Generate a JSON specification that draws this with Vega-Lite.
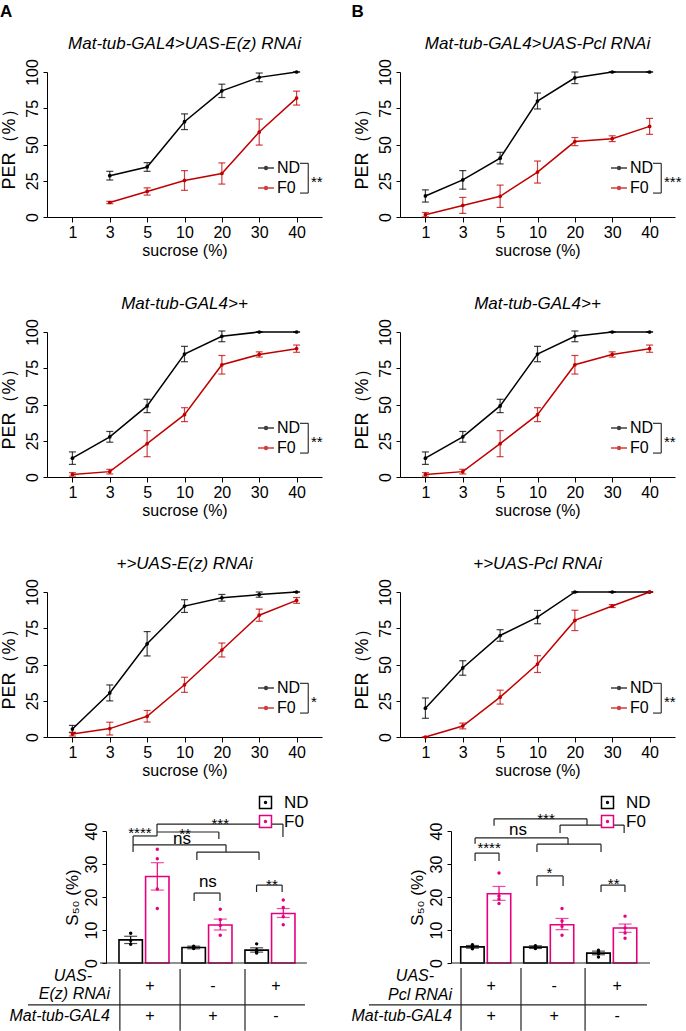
{
"$schema": "https://vega.github.io/schema/vega-lite/v6.json",
"background": "white",
"padding": {"left": 0, "top": 2, "right": 0, "bottom": 0},
"datasets": {
"lines": [
{"p":"A1","c":3,"g":"ND","m":28.5,"e":3},{"p":"A1","c":5,"g":"ND","m":34.5,"e":3},{"p":"A1","c":10,"g":"ND","m":65.7,"e":5.4},{"p":"A1","c":20,"g":"ND","m":87,"e":4.6},{"p":"A1","c":30,"g":"ND","m":96.3,"e":3},{"p":"A1","c":40,"g":"ND","m":100,"e":0},
{"p":"A1","c":3,"g":"F0","m":10,"e":0.8},{"p":"A1","c":5,"g":"F0","m":17.6,"e":2.5},{"p":"A1","c":10,"g":"F0","m":25.2,"e":6.8},{"p":"A1","c":20,"g":"F0","m":30,"e":7.3},{"p":"A1","c":30,"g":"F0","m":58.6,"e":9},{"p":"A1","c":40,"g":"F0","m":82,"e":4.8},
{"p":"B1","c":1,"g":"ND","m":14.5,"e":4.2},{"p":"B1","c":3,"g":"ND","m":25.6,"e":6.4},{"p":"B1","c":5,"g":"ND","m":40.6,"e":4},{"p":"B1","c":10,"g":"ND","m":80,"e":5.5},{"p":"B1","c":20,"g":"ND","m":96,"e":4},{"p":"B1","c":30,"g":"ND","m":100,"e":0},{"p":"B1","c":40,"g":"ND","m":100,"e":0},
{"p":"B1","c":1,"g":"F0","m":1.6,"e":1.5},{"p":"B1","c":3,"g":"F0","m":8,"e":5.5},{"p":"B1","c":5,"g":"F0","m":14.3,"e":7.7},{"p":"B1","c":10,"g":"F0","m":31,"e":7.6},{"p":"B1","c":20,"g":"F0","m":52,"e":2.8},{"p":"B1","c":30,"g":"F0","m":54,"e":2},{"p":"B1","c":40,"g":"F0","m":62.5,"e":5.5},
{"p":"M2","c":1,"g":"ND","m":13,"e":4.3},{"p":"M2","c":3,"g":"ND","m":27.7,"e":3.7},{"p":"M2","c":5,"g":"ND","m":49,"e":4.6},{"p":"M2","c":10,"g":"ND","m":84.8,"e":5.3},{"p":"M2","c":20,"g":"ND","m":97,"e":3.7},{"p":"M2","c":30,"g":"ND","m":100,"e":0},{"p":"M2","c":40,"g":"ND","m":100,"e":0},
{"p":"M2","c":1,"g":"F0","m":1.8,"e":1.2},{"p":"M2","c":3,"g":"F0","m":3.7,"e":1.6},{"p":"M2","c":5,"g":"F0","m":23,"e":9},{"p":"M2","c":10,"g":"F0","m":43,"e":4.8},{"p":"M2","c":20,"g":"F0","m":77.4,"e":6.4},{"p":"M2","c":30,"g":"F0","m":84.5,"e":1.8},{"p":"M2","c":40,"g":"F0","m":88.5,"e":2.5},
{"p":"A3","c":1,"g":"ND","m":5.5,"e":2.5},{"p":"A3","c":3,"g":"ND","m":30.4,"e":5.5},{"p":"A3","c":5,"g":"ND","m":64.3,"e":8.4},{"p":"A3","c":10,"g":"ND","m":90.3,"e":4.4},{"p":"A3","c":20,"g":"ND","m":96,"e":2.3},{"p":"A3","c":30,"g":"ND","m":98.2,"e":1.8},{"p":"A3","c":40,"g":"ND","m":100,"e":0},
{"p":"A3","c":1,"g":"F0","m":2,"e":1.3},{"p":"A3","c":3,"g":"F0","m":5.8,"e":4.4},{"p":"A3","c":5,"g":"F0","m":14.3,"e":4},{"p":"A3","c":10,"g":"F0","m":36,"e":5.2},{"p":"A3","c":20,"g":"F0","m":60,"e":4.8},{"p":"A3","c":30,"g":"F0","m":84,"e":4.2},{"p":"A3","c":40,"g":"F0","m":94.2,"e":2},
{"p":"B3","c":1,"g":"ND","m":19.9,"e":7},{"p":"B3","c":3,"g":"ND","m":47.6,"e":5},{"p":"B3","c":5,"g":"ND","m":70,"e":4},{"p":"B3","c":10,"g":"ND","m":82.7,"e":4.6},{"p":"B3","c":20,"g":"ND","m":100,"e":0},{"p":"B3","c":30,"g":"ND","m":100,"e":0},{"p":"B3","c":40,"g":"ND","m":100,"e":0},
{"p":"B3","c":1,"g":"F0","m":0,"e":0},{"p":"B3","c":3,"g":"F0","m":7.6,"e":2},{"p":"B3","c":5,"g":"F0","m":27.5,"e":4.8},{"p":"B3","c":10,"g":"F0","m":50.3,"e":5.8},{"p":"B3","c":20,"g":"F0","m":80.4,"e":7},{"p":"B3","c":30,"g":"F0","m":90.3,"e":1},{"p":"B3","c":40,"g":"F0","m":100,"e":0}
],
"lann": [
{"x1":95,"x2":95,"y1":16.5,"y2":37},{"x1":92,"x2":95,"y1":37,"y2":37},{"x1":92,"x2":95,"y1":16.5,"y2":16.5}
],
"lstar": [
{"p":"A1","x":96,"y":21,"t":"**"},{"p":"B1","x":96,"y":21,"t":"***"},{"p":"A2","x":96,"y":21,"t":"**"},{"p":"B2","x":96,"y":21,"t":"**"},{"p":"A3","x":96,"y":21,"t":"*"},{"p":"B3","x":96,"y":21,"t":"**"}
],
"bars": [
{"p":"A","grp":"g1","cond":"ND","m":7.0,"lo":5.9,"hi":8.1},{"p":"A","grp":"g1","cond":"F0","m":26.2,"lo":22.1,"hi":30.4},
{"p":"A","grp":"g2","cond":"ND","m":4.7,"lo":4.3,"hi":5.1},{"p":"A","grp":"g2","cond":"F0","m":11.5,"lo":10.0,"hi":13.3},
{"p":"A","grp":"g3","cond":"ND","m":3.9,"lo":3.3,"hi":4.6},{"p":"A","grp":"g3","cond":"F0","m":15.0,"lo":13.8,"hi":16.5},
{"p":"B","grp":"g1","cond":"ND","m":4.9,"lo":4.5,"hi":5.3},{"p":"B","grp":"g1","cond":"F0","m":21.0,"lo":19.0,"hi":23.2},
{"p":"B","grp":"g2","cond":"ND","m":4.8,"lo":4.4,"hi":5.2},{"p":"B","grp":"g2","cond":"F0","m":11.6,"lo":10.1,"hi":13.5},
{"p":"B","grp":"g3","cond":"ND","m":3.0,"lo":2.5,"hi":3.6},{"p":"B","grp":"g3","cond":"F0","m":10.6,"lo":9.3,"hi":11.8}
],
"dots": [
{"p":"A","grp":"g1","cond":"ND","v":9.0},{"p":"A","grp":"g1","cond":"ND","v":6.8},{"p":"A","grp":"g1","cond":"ND","v":5.7},
{"p":"A","grp":"g1","cond":"F0","v":34.5},{"p":"A","grp":"g1","cond":"F0","v":31.6},{"p":"A","grp":"g1","cond":"F0","v":22.4},{"p":"A","grp":"g1","cond":"F0","v":16.5},
{"p":"A","grp":"g2","cond":"ND","v":5.1},{"p":"A","grp":"g2","cond":"ND","v":4.8},{"p":"A","grp":"g2","cond":"ND","v":4.6},{"p":"A","grp":"g2","cond":"ND","v":4.4},
{"p":"A","grp":"g2","cond":"F0","v":16.3},{"p":"A","grp":"g2","cond":"F0","v":13.1},{"p":"A","grp":"g2","cond":"F0","v":11.4},{"p":"A","grp":"g2","cond":"F0","v":8.4},
{"p":"A","grp":"g3","cond":"ND","v":5.8},{"p":"A","grp":"g3","cond":"ND","v":4.0},{"p":"A","grp":"g3","cond":"ND","v":3.4},{"p":"A","grp":"g3","cond":"ND","v":3.0},
{"p":"A","grp":"g3","cond":"F0","v":19.1},{"p":"A","grp":"g3","cond":"F0","v":16.8},{"p":"A","grp":"g3","cond":"F0","v":14.0},{"p":"A","grp":"g3","cond":"F0","v":11.6},
{"p":"B","grp":"g1","cond":"ND","v":5.5},{"p":"B","grp":"g1","cond":"ND","v":5.3},{"p":"B","grp":"g1","cond":"ND","v":4.6},{"p":"B","grp":"g1","cond":"ND","v":4.3},
{"p":"B","grp":"g1","cond":"F0","v":27.3},{"p":"B","grp":"g1","cond":"F0","v":20.3},{"p":"B","grp":"g1","cond":"F0","v":19.4},{"p":"B","grp":"g1","cond":"F0","v":18.0},
{"p":"B","grp":"g2","cond":"ND","v":5.2},{"p":"B","grp":"g2","cond":"ND","v":5.0},{"p":"B","grp":"g2","cond":"ND","v":4.6},{"p":"B","grp":"g2","cond":"ND","v":4.4},
{"p":"B","grp":"g2","cond":"F0","v":16.5},{"p":"B","grp":"g2","cond":"F0","v":12.7},{"p":"B","grp":"g2","cond":"F0","v":11.1},{"p":"B","grp":"g2","cond":"F0","v":8.4},
{"p":"B","grp":"g3","cond":"ND","v":3.9},{"p":"B","grp":"g3","cond":"ND","v":3.4},{"p":"B","grp":"g3","cond":"ND","v":2.9},{"p":"B","grp":"g3","cond":"ND","v":1.8},
{"p":"B","grp":"g3","cond":"F0","v":14.2},{"p":"B","grp":"g3","cond":"F0","v":10.6},{"p":"B","grp":"g3","cond":"F0","v":9.1},{"p":"B","grp":"g3","cond":"F0","v":7.5}
],
"tbl": [
{"p":"A","grp":"g1","ty":-7,"t":"+"},{"p":"A","grp":"g2","ty":-7,"t":"-"},{"p":"A","grp":"g3","ty":-7,"t":"+"},
{"p":"A","grp":"g1","ty":-16,"t":"+"},{"p":"A","grp":"g2","ty":-16,"t":"+"},{"p":"A","grp":"g3","ty":-16,"t":"-"},
{"p":"B","grp":"g1","ty":-7,"t":"+"},{"p":"B","grp":"g2","ty":-7,"t":"-"},{"p":"B","grp":"g3","ty":-7,"t":"+"},
{"p":"B","grp":"g1","ty":-16,"t":"+"},{"p":"B","grp":"g2","ty":-16,"t":"+"},{"p":"B","grp":"g3","ty":-16,"t":"-"}
],
"bann": [
{"p":"A","x1":40,"x2":85.8,"y1":42.1,"y2":42.1},{"p":"A","x1":85.8,"x2":85.8,"y1":38.2,"y2":42.1},{"p":"A","x1":40,"x2":40,"y1":38.5,"y2":42.1},
{"p":"A","x1":40,"x2":62.5,"y1":39.7,"y2":39.7},{"p":"A","x1":62.5,"x2":62.5,"y1":37.6,"y2":39.7},
{"p":"A","x1":31.3,"x2":40,"y1":38.5,"y2":38.5},{"p":"A","x1":31.3,"x2":31.3,"y1":33.6,"y2":38.5},
{"p":"A","x1":31.3,"x2":65.1,"y1":35.8,"y2":35.8},{"p":"A","x1":65.1,"x2":65.1,"y1":33.6,"y2":35.8},
{"p":"A","x1":54.5,"x2":77.1,"y1":33.6,"y2":33.6},{"p":"A","x1":54.5,"x2":54.5,"y1":31.2,"y2":33.6},{"p":"A","x1":77.1,"x2":77.1,"y1":31.2,"y2":33.6},
{"p":"A","x1":53.5,"x2":62.9,"y1":21.2,"y2":21.2},{"p":"A","x1":53.5,"x2":53.5,"y1":18.8,"y2":21.2},{"p":"A","x1":62.9,"x2":62.9,"y1":18.8,"y2":21.2},
{"p":"A","x1":76.2,"x2":85.5,"y1":23.6,"y2":23.6},{"p":"A","x1":76.2,"x2":76.2,"y1":21.5,"y2":23.6},{"p":"A","x1":85.5,"x2":85.5,"y1":21.5,"y2":23.6},
{"p":"A","x1":19.3,"x2":94.5,"y1":0,"y2":0},
{"p":"A","x1":26.5,"x2":26.5,"y1":-1.8,"y2":-20.5},{"p":"A","x1":48.4,"x2":48.4,"y1":-1.8,"y2":-20.5},{"p":"A","x1":72,"x2":72,"y1":-1.8,"y2":-20.5},
{"p":"A","x1":-6.9,"x2":93.8,"y1":-12.7,"y2":-12.7},
{"p":"B","x1":34.2,"x2":68,"y1":43.7,"y2":43.7},{"p":"B","x1":34.2,"x2":34.2,"y1":41.6,"y2":43.7},{"p":"B","x1":68,"x2":68,"y1":41.8,"y2":43.7},
{"p":"B","x1":58.2,"x2":81.5,"y1":41.8,"y2":41.8},{"p":"B","x1":58.2,"x2":58.2,"y1":39.4,"y2":41.8},{"p":"B","x1":81.5,"x2":81.5,"y1":39.4,"y2":41.8},
{"p":"B","x1":27.3,"x2":61.1,"y1":37.9,"y2":37.9},{"p":"B","x1":27.3,"x2":27.3,"y1":36.1,"y2":37.9},{"p":"B","x1":61.1,"x2":61.1,"y1":36.0,"y2":37.9},
{"p":"B","x1":49.8,"x2":73.1,"y1":36.0,"y2":36.0},{"p":"B","x1":49.8,"x2":49.8,"y1":33.6,"y2":36.0},{"p":"B","x1":73.1,"x2":73.1,"y1":33.6,"y2":36.0},
{"p":"B","x1":27.3,"x2":36.0,"y1":33.3,"y2":33.3},{"p":"B","x1":27.3,"x2":27.3,"y1":30.9,"y2":33.3},{"p":"B","x1":36.0,"x2":36.0,"y1":30.9,"y2":33.3},
{"p":"B","x1":49.8,"x2":59.3,"y1":26.4,"y2":26.4},{"p":"B","x1":49.8,"x2":49.8,"y1":23.3,"y2":26.4},{"p":"B","x1":59.3,"x2":59.3,"y1":23.3,"y2":26.4},
{"p":"B","x1":73.1,"x2":81.8,"y1":23.6,"y2":23.6},{"p":"B","x1":73.1,"x2":73.1,"y1":21.5,"y2":23.6},{"p":"B","x1":81.8,"x2":81.8,"y1":21.5,"y2":23.6},
{"p":"B","x1":18.9,"x2":90.9,"y1":0,"y2":0},
{"p":"B","x1":22.2,"x2":22.2,"y1":-1.5,"y2":-20.5},{"p":"B","x1":44,"x2":44,"y1":-1.5,"y2":-20.5},{"p":"B","x1":67.3,"x2":67.3,"y1":-1.5,"y2":-20.5},
{"p":"B","x1":-11.3,"x2":89.8,"y1":-12.7,"y2":-12.7}
],
"btxt": [
{"p":"A","k":"s","x":63,"y":40.6,"t":"***"},{"p":"A","k":"s","x":50.2,"y":37.6,"t":"**"},{"p":"A","k":"s","x":33.8,"y":37.9,"t":"****"},
{"p":"A","k":"n","x":49.1,"y":36.0,"t":"ns"},{"p":"A","k":"n","x":58.5,"y":23.0,"t":"ns"},{"p":"A","k":"s","x":81.8,"y":22.1,"t":"**"},
{"p":"A","k":"l","x":16.4,"y":-3.9,"t":"UAS-"},{"p":"A","k":"l","x":22.9,"y":-9.4,"t":"E(z) RNAi"},{"p":"A","k":"l","x":22.9,"y":-16.1,"t":"Mat-tub-GAL4"},
{"p":"B","k":"s","x":53.1,"y":42.2,"t":"***"},{"p":"B","k":"n","x":42.9,"y":38.8,"t":"ns"},{"p":"B","k":"s","x":32.4,"y":33.3,"t":"****"},
{"p":"B","k":"s","x":54.3,"y":25.7,"t":"*"},{"p":"B","k":"s","x":77.7,"y":22.4,"t":"**"},
{"p":"B","k":"l","x":12.4,"y":-3.9,"t":"UAS-"},{"p":"B","k":"l","x":18.9,"y":-9.7,"t":"Pcl RNAi"},{"p":"B","k":"l","x":18.9,"y":-16,"t":"Mat-tub-GAL4"}
]
},
"hconcat": [
{
"title": {"text": "A", "anchor": "start", "fontSize": 17, "fontWeight": "bold", "fontStyle": "normal", "offset": 14},
"spacing": 16,
"resolve": {"scale": {"color": "independent", "stroke": "independent", "fill": "independent", "x": "independent", "y": "independent"}, "legend": {"color": "independent", "stroke": "independent", "fill": "independent"}},
"vconcat": [
{"width": 275, "height": 145, "title": {"text": "Mat-tub-GAL4>UAS-E(z) RNAi"},
"layer": [
{"data": {"name": "lines"}, "transform": [{"filter": "datum.p=='A1'"}],
"encoding": {
"x": {"field": "c", "type": "ordinal", "scale": {"type": "point", "domain": [1,3,5,10,20,30,40], "padding": 0.68}, "axis": {"title": ["sucrose (%)", ""], "titleLineHeight": 20}},
"y": {"field": "m", "type": "quantitative", "scale": {"domain": [0,100], "nice": false}, "axis": {"values": [0,25,50,75,100], "labelOverlap": false, "labelSeparation": 0, "titleFontSize": 18, "titlePadding": 6}, "title": "PER（%）"},
"color": {"field": "g", "type": "nominal", "scale": {"domain": ["ND","F0"], "range": ["#000000","#C00000"]}, "legend": {"orient": "none", "legendX": 210, "legendY": 87, "title": null, "symbolType": "M-1,0H1M-0.18,0A0.18,0.18,0,1,0,0.18,0A0.18,0.18,0,1,0,-0.18,0", "symbolSize": 256, "symbolStrokeWidth": 1.5, "labelFontSize": 16, "rowPadding": 3, "labelOffset": 2}}},
"layer": [
{"mark": {"type": "line", "strokeWidth": 1.5}},
{"mark": {"type": "errorbar", "ticks": {"size": 7}, "opacity": 0.75, "thickness": 1.2}, "encoding": {"yError": {"field": "e"}}},
{"mark": {"type": "point", "filled": true, "size": 14, "opacity": 1}}
]},
{"data": {"name": "lann"}, "mark": {"type": "rule", "color": "#333", "strokeWidth": 1.2}, "encoding": {"x": {"field": "x1", "type": "quantitative", "scale": {"domain": [0,100]}, "axis": null}, "x2": {"field": "x2"}, "y": {"field": "y1", "type": "quantitative", "title": "PER（%）", "axis": {"values": [0,25,50,75,100], "labelOverlap": false, "labelSeparation": 0, "titleFontSize": 18, "titlePadding": 6}}, "y2": {"field": "y2"}}},
{"data": {"name": "lstar"}, "transform": [{"filter": "datum.p=='A1'"}], "mark": {"type": "text", "align": "left", "baseline": "alphabetic", "fontSize": 15}, "encoding": {"x": {"field": "x", "type": "quantitative", "scale": {"domain": [0,100]}, "axis": null}, "y": {"field": "y", "type": "quantitative", "title": "PER（%）", "axis": {"values": [0,25,50,75,100], "labelOverlap": false, "labelSeparation": 0, "titleFontSize": 18, "titlePadding": 6}}, "text": {"field": "t"}}}
],
"resolve": {"scale": {"x": "independent"}}},
{"width": 275, "height": 145, "title": {"text": "Mat-tub-GAL4>+"},
"layer": [
{"data": {"name": "lines"}, "transform": [{"filter": "datum.p=='M2'"}],
"encoding": {
"x": {"field": "c", "type": "ordinal", "scale": {"type": "point", "domain": [1,3,5,10,20,30,40], "padding": 0.68}, "axis": {"title": ["sucrose (%)", ""], "titleLineHeight": 20}},
"y": {"field": "m", "type": "quantitative", "scale": {"domain": [0,100], "nice": false}, "axis": {"values": [0,25,50,75,100], "labelOverlap": false, "labelSeparation": 0, "titleFontSize": 18, "titlePadding": 6}, "title": "PER（%）"},
"color": {"field": "g", "type": "nominal", "scale": {"domain": ["ND","F0"], "range": ["#000000","#C00000"]}, "legend": {"orient": "none", "legendX": 210, "legendY": 87, "title": null, "symbolType": "M-1,0H1M-0.18,0A0.18,0.18,0,1,0,0.18,0A0.18,0.18,0,1,0,-0.18,0", "symbolSize": 256, "symbolStrokeWidth": 1.5, "labelFontSize": 16, "rowPadding": 3, "labelOffset": 2}}},
"layer": [
{"mark": {"type": "line", "strokeWidth": 1.5}},
{"mark": {"type": "errorbar", "ticks": {"size": 7}, "opacity": 0.75, "thickness": 1.2}, "encoding": {"yError": {"field": "e"}}},
{"mark": {"type": "point", "filled": true, "size": 14, "opacity": 1}}
]},
{"data": {"name": "lann"}, "mark": {"type": "rule", "color": "#333", "strokeWidth": 1.2}, "encoding": {"x": {"field": "x1", "type": "quantitative", "scale": {"domain": [0,100]}, "axis": null}, "x2": {"field": "x2"}, "y": {"field": "y1", "type": "quantitative", "title": "PER（%）", "axis": {"values": [0,25,50,75,100], "labelOverlap": false, "labelSeparation": 0, "titleFontSize": 18, "titlePadding": 6}}, "y2": {"field": "y2"}}},
{"data": {"name": "lstar"}, "transform": [{"filter": "datum.p=='A2'"}], "mark": {"type": "text", "align": "left", "baseline": "alphabetic", "fontSize": 15}, "encoding": {"x": {"field": "x", "type": "quantitative", "scale": {"domain": [0,100]}, "axis": null}, "y": {"field": "y", "type": "quantitative", "title": "PER（%）", "axis": {"values": [0,25,50,75,100], "labelOverlap": false, "labelSeparation": 0, "titleFontSize": 18, "titlePadding": 6}}, "text": {"field": "t"}}}
],
"resolve": {"scale": {"x": "independent"}}},
{"width": 275, "height": 145, "title": {"text": "+>UAS-E(z) RNAi"},
"layer": [
{"data": {"name": "lines"}, "transform": [{"filter": "datum.p=='A3'"}],
"encoding": {
"x": {"field": "c", "type": "ordinal", "scale": {"type": "point", "domain": [1,3,5,10,20,30,40], "padding": 0.68}, "axis": {"title": "sucrose (%)"}},
"y": {"field": "m", "type": "quantitative", "scale": {"domain": [0,100], "nice": false}, "axis": {"values": [0,25,50,75,100], "labelOverlap": false, "labelSeparation": 0, "titleFontSize": 18, "titlePadding": 6}, "title": "PER（%）"},
"color": {"field": "g", "type": "nominal", "scale": {"domain": ["ND","F0"], "range": ["#000000","#C00000"]}, "legend": {"orient": "none", "legendX": 210, "legendY": 87, "title": null, "symbolType": "M-1,0H1M-0.18,0A0.18,0.18,0,1,0,0.18,0A0.18,0.18,0,1,0,-0.18,0", "symbolSize": 256, "symbolStrokeWidth": 1.5, "labelFontSize": 16, "rowPadding": 3, "labelOffset": 2}}},
"layer": [
{"mark": {"type": "line", "strokeWidth": 1.5}},
{"mark": {"type": "errorbar", "ticks": {"size": 7}, "opacity": 0.75, "thickness": 1.2}, "encoding": {"yError": {"field": "e"}}},
{"mark": {"type": "point", "filled": true, "size": 14, "opacity": 1}}
]},
{"data": {"name": "lann"}, "mark": {"type": "rule", "color": "#333", "strokeWidth": 1.2}, "encoding": {"x": {"field": "x1", "type": "quantitative", "scale": {"domain": [0,100]}, "axis": null}, "x2": {"field": "x2"}, "y": {"field": "y1", "type": "quantitative", "title": "PER（%）", "axis": {"values": [0,25,50,75,100], "labelOverlap": false, "labelSeparation": 0, "titleFontSize": 18, "titlePadding": 6}}, "y2": {"field": "y2"}}},
{"data": {"name": "lstar"}, "transform": [{"filter": "datum.p=='A3'"}], "mark": {"type": "text", "align": "left", "baseline": "alphabetic", "fontSize": 15}, "encoding": {"x": {"field": "x", "type": "quantitative", "scale": {"domain": [0,100]}, "axis": null}, "y": {"field": "y", "type": "quantitative", "title": "PER（%）", "axis": {"values": [0,25,50,75,100], "labelOverlap": false, "labelSeparation": 0, "titleFontSize": 18, "titlePadding": 6}}, "text": {"field": "t"}}}
],
"resolve": {"scale": {"x": "independent"}}},
{"width": 275, "height": 132,
"layer": [
{"layer": [
{"data": {"name": "bars"}, "transform": [{"filter": "datum.p=='A'"}],
"encoding": {
"x": {"field": "grp", "type": "nominal", "scale": {"domain": ["g1","g2","g3"], "paddingInner": 0.206, "paddingOuter": 0.786, "align": 0.727}, "axis": null},
"xOffset": {"field": "cond", "type": "nominal", "scale": {"domain": ["ND","F0"], "paddingInner": 0.12}},
"y": {"field": "m", "type": "quantitative", "scale": {"domain": [0,40], "nice": false}, "axis": {"values": [0,10,20,30,40], "labelOverlap": false, "labelSeparation": 0, "offset": -59, "titlePadding": 2, "titleFontSize": 17}, "title": "S₅₀ (%)"}},
"layer": [
{"mark": {"type": "bar", "strokeWidth": 1.6},
"encoding": {
"stroke": {"field": "cond", "type": "nominal", "scale": {"domain": ["ND","F0"], "range": ["#000000","#E6007E"]}, "legend": {"orient": "none", "legendX": 210, "legendY": -37, "title": null, "symbolType": "M-1,-1H1V1H-1ZM-0.15,0A0.15,0.15,0,1,0,0.15,0A0.15,0.15,0,1,0,-0.15,0", "symbolSize": 144, "symbolStrokeWidth": 1.5, "labelFontSize": 17, "rowPadding": 0, "labelOffset": 10}},
"fill": {"field": "cond", "type": "nominal", "scale": {"domain": ["ND","F0"], "range": ["#ffffff","#ffffff"]}, "legend": {"orient": "none", "legendX": 210, "legendY": -37, "title": null, "symbolType": "M-1,-1H1V1H-1ZM-0.15,0A0.15,0.15,0,1,0,0.15,0A0.15,0.15,0,1,0,-0.15,0", "symbolSize": 144, "symbolStrokeWidth": 1.5, "labelFontSize": 17, "rowPadding": 0, "labelOffset": 10}}}},
{"mark": {"type": "rule", "strokeWidth": 1.2}, "encoding": {"y": {"field": "lo", "type": "quantitative", "title": "S₅₀ (%)", "axis": {"values": [0,10,20,30,40], "labelOverlap": false, "labelSeparation": 0, "offset": -59, "titlePadding": 2, "titleFontSize": 17}}, "y2": {"field": "hi"}, "color": {"field": "cond", "type": "nominal", "scale": {"domain": ["ND","F0"], "range": ["#000000","#E6007E"]}, "legend": null}}},
{"mark": {"type": "tick", "size": 13, "thickness": 1.2}, "encoding": {"y": {"field": "lo", "type": "quantitative", "title": "S₅₀ (%)", "axis": {"values": [0,10,20,30,40], "labelOverlap": false, "labelSeparation": 0, "offset": -59, "titlePadding": 2, "titleFontSize": 17}}, "color": {"field": "cond", "type": "nominal", "scale": {"domain": ["ND","F0"], "range": ["#000000","#E6007E"]}, "legend": null}}},
{"mark": {"type": "tick", "size": 13, "thickness": 1.2}, "encoding": {"y": {"field": "hi", "type": "quantitative", "title": "S₅₀ (%)", "axis": {"values": [0,10,20,30,40], "labelOverlap": false, "labelSeparation": 0, "offset": -59, "titlePadding": 2, "titleFontSize": 17}}, "color": {"field": "cond", "type": "nominal", "scale": {"domain": ["ND","F0"], "range": ["#000000","#E6007E"]}, "legend": null}}}
]},
{"data": {"name": "dots"}, "transform": [{"filter": "datum.p=='A'"}], "mark": {"type": "point", "filled": true, "size": 12, "opacity": 1},
"encoding": {"x": {"field": "grp", "type": "nominal", "scale": {"domain": ["g1","g2","g3"], "paddingInner": 0.206, "paddingOuter": 0.786, "align": 0.727}, "axis": null}, "xOffset": {"field": "cond", "type": "nominal", "scale": {"domain": ["ND","F0"], "paddingInner": 0.12}}, "y": {"field": "v", "type": "quantitative", "title": "S₅₀ (%)", "axis": {"values": [0,10,20,30,40], "labelOverlap": false, "labelSeparation": 0, "offset": -59, "titlePadding": 2, "titleFontSize": 17}}, "color": {"field": "cond", "type": "nominal", "scale": {"domain": ["ND","F0"], "range": ["#000000","#E6007E"]}, "legend": null}}},
{"data": {"name": "tbl"}, "transform": [{"filter": "datum.p=='A'"}], "mark": {"type": "text", "fontSize": 16, "dx": 6, "baseline": "middle"},
"encoding": {"x": {"field": "grp", "type": "nominal", "scale": {"domain": ["g1","g2","g3"], "paddingInner": 0.206, "paddingOuter": 0.786, "align": 0.727}, "axis": null}, "y": {"field": "ty", "type": "quantitative", "title": "S₅₀ (%)", "axis": {"values": [0,10,20,30,40], "labelOverlap": false, "labelSeparation": 0, "offset": -59, "titlePadding": 2, "titleFontSize": 17}}, "text": {"field": "t"}}}
]},
{"data": {"name": "bann"}, "transform": [{"filter": "datum.p=='A'"}], "mark": {"type": "rule", "color": "#222", "strokeWidth": 1.2}, "encoding": {"x": {"field": "x1", "type": "quantitative", "scale": {"domain": [0,100]}, "axis": null}, "x2": {"field": "x2"}, "y": {"field": "y1", "type": "quantitative", "title": "S₅₀ (%)", "axis": {"values": [0,10,20,30,40], "labelOverlap": false, "labelSeparation": 0, "offset": -59, "titlePadding": 2, "titleFontSize": 17}}, "y2": {"field": "y2"}}},
{"data": {"name": "btxt"}, "transform": [{"filter": "datum.p=='A' && datum.k=='s'"}], "mark": {"type": "text", "fontSize": 15, "baseline": "alphabetic"}, "encoding": {"x": {"field": "x", "type": "quantitative", "scale": {"domain": [0,100]}, "axis": null}, "y": {"field": "y", "type": "quantitative", "title": "S₅₀ (%)", "axis": {"values": [0,10,20,30,40], "labelOverlap": false, "labelSeparation": 0, "offset": -59, "titlePadding": 2, "titleFontSize": 17}}, "text": {"field": "t"}}},
{"data": {"name": "btxt"}, "transform": [{"filter": "datum.p=='A' && datum.k=='n'"}], "mark": {"type": "text", "fontSize": 17, "baseline": "alphabetic"}, "encoding": {"x": {"field": "x", "type": "quantitative", "scale": {"domain": [0,100]}, "axis": null}, "y": {"field": "y", "type": "quantitative", "title": "S₅₀ (%)", "axis": {"values": [0,10,20,30,40], "labelOverlap": false, "labelSeparation": 0, "offset": -59, "titlePadding": 2, "titleFontSize": 17}}, "text": {"field": "t"}}},
{"data": {"name": "btxt"}, "transform": [{"filter": "datum.p=='A' && datum.k=='l'"}], "mark": {"type": "text", "fontSize": 16, "fontStyle": "italic", "align": "right", "baseline": "middle"}, "encoding": {"x": {"field": "x", "type": "quantitative", "scale": {"domain": [0,100]}, "axis": null}, "y": {"field": "y", "type": "quantitative", "title": "S₅₀ (%)", "axis": {"values": [0,10,20,30,40], "labelOverlap": false, "labelSeparation": 0, "offset": -59, "titlePadding": 2, "titleFontSize": 17}}, "text": {"field": "t"}}}
],
"resolve": {"scale": {"x": "independent"}}}
]
},
{
"title": {"text": "B", "anchor": "start", "fontSize": 17, "fontWeight": "bold", "fontStyle": "normal", "offset": 14},
"spacing": 16,
"resolve": {"scale": {"color": "independent", "stroke": "independent", "fill": "independent", "x": "independent", "y": "independent"}, "legend": {"color": "independent", "stroke": "independent", "fill": "independent"}},
"vconcat": [
{"width": 275, "height": 145, "title": {"text": "Mat-tub-GAL4>UAS-Pcl RNAi"},
"layer": [
{"data": {"name": "lines"}, "transform": [{"filter": "datum.p=='B1'"}],
"encoding": {
"x": {"field": "c", "type": "ordinal", "scale": {"type": "point", "domain": [1,3,5,10,20,30,40], "padding": 0.68}, "axis": {"title": ["sucrose (%)", ""], "titleLineHeight": 20}},
"y": {"field": "m", "type": "quantitative", "scale": {"domain": [0,100], "nice": false}, "axis": {"values": [0,25,50,75,100], "labelOverlap": false, "labelSeparation": 0, "titleFontSize": 18, "titlePadding": 6}, "title": "PER（%）"},
"color": {"field": "g", "type": "nominal", "scale": {"domain": ["ND","F0"], "range": ["#000000","#C00000"]}, "legend": {"orient": "none", "legendX": 210, "legendY": 87, "title": null, "symbolType": "M-1,0H1M-0.18,0A0.18,0.18,0,1,0,0.18,0A0.18,0.18,0,1,0,-0.18,0", "symbolSize": 256, "symbolStrokeWidth": 1.5, "labelFontSize": 16, "rowPadding": 3, "labelOffset": 2}}},
"layer": [
{"mark": {"type": "line", "strokeWidth": 1.5}},
{"mark": {"type": "errorbar", "ticks": {"size": 7}, "opacity": 0.75, "thickness": 1.2}, "encoding": {"yError": {"field": "e"}}},
{"mark": {"type": "point", "filled": true, "size": 14, "opacity": 1}}
]},
{"data": {"name": "lann"}, "mark": {"type": "rule", "color": "#333", "strokeWidth": 1.2}, "encoding": {"x": {"field": "x1", "type": "quantitative", "scale": {"domain": [0,100]}, "axis": null}, "x2": {"field": "x2"}, "y": {"field": "y1", "type": "quantitative", "title": "PER（%）", "axis": {"values": [0,25,50,75,100], "labelOverlap": false, "labelSeparation": 0, "titleFontSize": 18, "titlePadding": 6}}, "y2": {"field": "y2"}}},
{"data": {"name": "lstar"}, "transform": [{"filter": "datum.p=='B1'"}], "mark": {"type": "text", "align": "left", "baseline": "alphabetic", "fontSize": 15}, "encoding": {"x": {"field": "x", "type": "quantitative", "scale": {"domain": [0,100]}, "axis": null}, "y": {"field": "y", "type": "quantitative", "title": "PER（%）", "axis": {"values": [0,25,50,75,100], "labelOverlap": false, "labelSeparation": 0, "titleFontSize": 18, "titlePadding": 6}}, "text": {"field": "t"}}}
],
"resolve": {"scale": {"x": "independent"}}},
{"width": 275, "height": 145, "title": {"text": "Mat-tub-GAL4>+"},
"layer": [
{"data": {"name": "lines"}, "transform": [{"filter": "datum.p=='M2'"}],
"encoding": {
"x": {"field": "c", "type": "ordinal", "scale": {"type": "point", "domain": [1,3,5,10,20,30,40], "padding": 0.68}, "axis": {"title": ["sucrose (%)", ""], "titleLineHeight": 20}},
"y": {"field": "m", "type": "quantitative", "scale": {"domain": [0,100], "nice": false}, "axis": {"values": [0,25,50,75,100], "labelOverlap": false, "labelSeparation": 0, "titleFontSize": 18, "titlePadding": 6}, "title": "PER（%）"},
"color": {"field": "g", "type": "nominal", "scale": {"domain": ["ND","F0"], "range": ["#000000","#C00000"]}, "legend": {"orient": "none", "legendX": 210, "legendY": 87, "title": null, "symbolType": "M-1,0H1M-0.18,0A0.18,0.18,0,1,0,0.18,0A0.18,0.18,0,1,0,-0.18,0", "symbolSize": 256, "symbolStrokeWidth": 1.5, "labelFontSize": 16, "rowPadding": 3, "labelOffset": 2}}},
"layer": [
{"mark": {"type": "line", "strokeWidth": 1.5}},
{"mark": {"type": "errorbar", "ticks": {"size": 7}, "opacity": 0.75, "thickness": 1.2}, "encoding": {"yError": {"field": "e"}}},
{"mark": {"type": "point", "filled": true, "size": 14, "opacity": 1}}
]},
{"data": {"name": "lann"}, "mark": {"type": "rule", "color": "#333", "strokeWidth": 1.2}, "encoding": {"x": {"field": "x1", "type": "quantitative", "scale": {"domain": [0,100]}, "axis": null}, "x2": {"field": "x2"}, "y": {"field": "y1", "type": "quantitative", "title": "PER（%）", "axis": {"values": [0,25,50,75,100], "labelOverlap": false, "labelSeparation": 0, "titleFontSize": 18, "titlePadding": 6}}, "y2": {"field": "y2"}}},
{"data": {"name": "lstar"}, "transform": [{"filter": "datum.p=='B2'"}], "mark": {"type": "text", "align": "left", "baseline": "alphabetic", "fontSize": 15}, "encoding": {"x": {"field": "x", "type": "quantitative", "scale": {"domain": [0,100]}, "axis": null}, "y": {"field": "y", "type": "quantitative", "title": "PER（%）", "axis": {"values": [0,25,50,75,100], "labelOverlap": false, "labelSeparation": 0, "titleFontSize": 18, "titlePadding": 6}}, "text": {"field": "t"}}}
],
"resolve": {"scale": {"x": "independent"}}},
{"width": 275, "height": 145, "title": {"text": "+>UAS-Pcl RNAi"},
"layer": [
{"data": {"name": "lines"}, "transform": [{"filter": "datum.p=='B3'"}],
"encoding": {
"x": {"field": "c", "type": "ordinal", "scale": {"type": "point", "domain": [1,3,5,10,20,30,40], "padding": 0.68}, "axis": {"title": "sucrose (%)"}},
"y": {"field": "m", "type": "quantitative", "scale": {"domain": [0,100], "nice": false}, "axis": {"values": [0,25,50,75,100], "labelOverlap": false, "labelSeparation": 0, "titleFontSize": 18, "titlePadding": 6}, "title": "PER（%）"},
"color": {"field": "g", "type": "nominal", "scale": {"domain": ["ND","F0"], "range": ["#000000","#C00000"]}, "legend": {"orient": "none", "legendX": 210, "legendY": 87, "title": null, "symbolType": "M-1,0H1M-0.18,0A0.18,0.18,0,1,0,0.18,0A0.18,0.18,0,1,0,-0.18,0", "symbolSize": 256, "symbolStrokeWidth": 1.5, "labelFontSize": 16, "rowPadding": 3, "labelOffset": 2}}},
"layer": [
{"mark": {"type": "line", "strokeWidth": 1.5}},
{"mark": {"type": "errorbar", "ticks": {"size": 7}, "opacity": 0.75, "thickness": 1.2}, "encoding": {"yError": {"field": "e"}}},
{"mark": {"type": "point", "filled": true, "size": 14, "opacity": 1}}
]},
{"data": {"name": "lann"}, "mark": {"type": "rule", "color": "#333", "strokeWidth": 1.2}, "encoding": {"x": {"field": "x1", "type": "quantitative", "scale": {"domain": [0,100]}, "axis": null}, "x2": {"field": "x2"}, "y": {"field": "y1", "type": "quantitative", "title": "PER（%）", "axis": {"values": [0,25,50,75,100], "labelOverlap": false, "labelSeparation": 0, "titleFontSize": 18, "titlePadding": 6}}, "y2": {"field": "y2"}}},
{"data": {"name": "lstar"}, "transform": [{"filter": "datum.p=='B3'"}], "mark": {"type": "text", "align": "left", "baseline": "alphabetic", "fontSize": 15}, "encoding": {"x": {"field": "x", "type": "quantitative", "scale": {"domain": [0,100]}, "axis": null}, "y": {"field": "y", "type": "quantitative", "title": "PER（%）", "axis": {"values": [0,25,50,75,100], "labelOverlap": false, "labelSeparation": 0, "titleFontSize": 18, "titlePadding": 6}}, "text": {"field": "t"}}}
],
"resolve": {"scale": {"x": "independent"}}},
{"width": 275, "height": 132,
"layer": [
{"layer": [
{"data": {"name": "bars"}, "transform": [{"filter": "datum.p=='B'"}],
"encoding": {
"x": {"field": "grp", "type": "nominal", "scale": {"domain": ["g1","g2","g3"], "paddingInner": 0.19, "paddingOuter": 0.777, "align": 0.62}, "axis": null},
"xOffset": {"field": "cond", "type": "nominal", "scale": {"domain": ["ND","F0"], "paddingInner": 0.12}},
"y": {"field": "m", "type": "quantitative", "scale": {"domain": [0,40], "nice": false}, "axis": {"values": [0,10,20,30,40], "labelOverlap": false, "labelSeparation": 0, "offset": -51, "titlePadding": 2, "titleFontSize": 17}, "title": "S₅₀ (%)"}},
"layer": [
{"mark": {"type": "bar", "strokeWidth": 1.6},
"encoding": {
"stroke": {"field": "cond", "type": "nominal", "scale": {"domain": ["ND","F0"], "range": ["#000000","#E6007E"]}, "legend": {"orient": "none", "legendX": 199, "legendY": -37, "title": null, "symbolType": "M-1,-1H1V1H-1ZM-0.15,0A0.15,0.15,0,1,0,0.15,0A0.15,0.15,0,1,0,-0.15,0", "symbolSize": 144, "symbolStrokeWidth": 1.5, "labelFontSize": 17, "rowPadding": 0, "labelOffset": 10}},
"fill": {"field": "cond", "type": "nominal", "scale": {"domain": ["ND","F0"], "range": ["#ffffff","#ffffff"]}, "legend": {"orient": "none", "legendX": 199, "legendY": -37, "title": null, "symbolType": "M-1,-1H1V1H-1ZM-0.15,0A0.15,0.15,0,1,0,0.15,0A0.15,0.15,0,1,0,-0.15,0", "symbolSize": 144, "symbolStrokeWidth": 1.5, "labelFontSize": 17, "rowPadding": 0, "labelOffset": 10}}}},
{"mark": {"type": "rule", "strokeWidth": 1.2}, "encoding": {"y": {"field": "lo", "type": "quantitative", "title": "S₅₀ (%)", "axis": {"values": [0,10,20,30,40], "labelOverlap": false, "labelSeparation": 0, "offset": -51, "titlePadding": 2, "titleFontSize": 17}}, "y2": {"field": "hi"}, "color": {"field": "cond", "type": "nominal", "scale": {"domain": ["ND","F0"], "range": ["#000000","#E6007E"]}, "legend": null}}},
{"mark": {"type": "tick", "size": 13, "thickness": 1.2}, "encoding": {"y": {"field": "lo", "type": "quantitative", "title": "S₅₀ (%)", "axis": {"values": [0,10,20,30,40], "labelOverlap": false, "labelSeparation": 0, "offset": -51, "titlePadding": 2, "titleFontSize": 17}}, "color": {"field": "cond", "type": "nominal", "scale": {"domain": ["ND","F0"], "range": ["#000000","#E6007E"]}, "legend": null}}},
{"mark": {"type": "tick", "size": 13, "thickness": 1.2}, "encoding": {"y": {"field": "hi", "type": "quantitative", "title": "S₅₀ (%)", "axis": {"values": [0,10,20,30,40], "labelOverlap": false, "labelSeparation": 0, "offset": -51, "titlePadding": 2, "titleFontSize": 17}}, "color": {"field": "cond", "type": "nominal", "scale": {"domain": ["ND","F0"], "range": ["#000000","#E6007E"]}, "legend": null}}}
]},
{"data": {"name": "dots"}, "transform": [{"filter": "datum.p=='B'"}], "mark": {"type": "point", "filled": true, "size": 12, "opacity": 1},
"encoding": {"x": {"field": "grp", "type": "nominal", "scale": {"domain": ["g1","g2","g3"], "paddingInner": 0.19, "paddingOuter": 0.777, "align": 0.62}, "axis": null}, "xOffset": {"field": "cond", "type": "nominal", "scale": {"domain": ["ND","F0"], "paddingInner": 0.12}}, "y": {"field": "v", "type": "quantitative", "title": "S₅₀ (%)", "axis": {"values": [0,10,20,30,40], "labelOverlap": false, "labelSeparation": 0, "offset": -51, "titlePadding": 2, "titleFontSize": 17}}, "color": {"field": "cond", "type": "nominal", "scale": {"domain": ["ND","F0"], "range": ["#000000","#E6007E"]}, "legend": null}}},
{"data": {"name": "tbl"}, "transform": [{"filter": "datum.p=='B'"}], "mark": {"type": "text", "fontSize": 16, "dx": 5, "baseline": "middle"},
"encoding": {"x": {"field": "grp", "type": "nominal", "scale": {"domain": ["g1","g2","g3"], "paddingInner": 0.19, "paddingOuter": 0.777, "align": 0.62}, "axis": null}, "y": {"field": "ty", "type": "quantitative", "title": "S₅₀ (%)", "axis": {"values": [0,10,20,30,40], "labelOverlap": false, "labelSeparation": 0, "offset": -51, "titlePadding": 2, "titleFontSize": 17}}, "text": {"field": "t"}}}
]},
{"data": {"name": "bann"}, "transform": [{"filter": "datum.p=='B'"}], "mark": {"type": "rule", "color": "#222", "strokeWidth": 1.2}, "encoding": {"x": {"field": "x1", "type": "quantitative", "scale": {"domain": [0,100]}, "axis": null}, "x2": {"field": "x2"}, "y": {"field": "y1", "type": "quantitative", "title": "S₅₀ (%)", "axis": {"values": [0,10,20,30,40], "labelOverlap": false, "labelSeparation": 0, "offset": -51, "titlePadding": 2, "titleFontSize": 17}}, "y2": {"field": "y2"}}},
{"data": {"name": "btxt"}, "transform": [{"filter": "datum.p=='B' && datum.k=='s'"}], "mark": {"type": "text", "fontSize": 15, "baseline": "alphabetic"}, "encoding": {"x": {"field": "x", "type": "quantitative", "scale": {"domain": [0,100]}, "axis": null}, "y": {"field": "y", "type": "quantitative", "title": "S₅₀ (%)", "axis": {"values": [0,10,20,30,40], "labelOverlap": false, "labelSeparation": 0, "offset": -51, "titlePadding": 2, "titleFontSize": 17}}, "text": {"field": "t"}}},
{"data": {"name": "btxt"}, "transform": [{"filter": "datum.p=='B' && datum.k=='n'"}], "mark": {"type": "text", "fontSize": 17, "baseline": "alphabetic"}, "encoding": {"x": {"field": "x", "type": "quantitative", "scale": {"domain": [0,100]}, "axis": null}, "y": {"field": "y", "type": "quantitative", "title": "S₅₀ (%)", "axis": {"values": [0,10,20,30,40], "labelOverlap": false, "labelSeparation": 0, "offset": -51, "titlePadding": 2, "titleFontSize": 17}}, "text": {"field": "t"}}},
{"data": {"name": "btxt"}, "transform": [{"filter": "datum.p=='B' && datum.k=='l'"}], "mark": {"type": "text", "fontSize": 16, "fontStyle": "italic", "align": "right", "baseline": "middle"}, "encoding": {"x": {"field": "x", "type": "quantitative", "scale": {"domain": [0,100]}, "axis": null}, "y": {"field": "y", "type": "quantitative", "title": "S₅₀ (%)", "axis": {"values": [0,10,20,30,40], "labelOverlap": false, "labelSeparation": 0, "offset": -51, "titlePadding": 2, "titleFontSize": 17}}, "text": {"field": "t"}}}
],
"resolve": {"scale": {"x": "independent"}}}
]
}
],
"spacing": 28,
"resolve": {"scale": {"color": "independent", "stroke": "independent", "fill": "independent", "x": "independent", "y": "independent"}, "legend": {"color": "independent", "stroke": "independent", "fill": "independent"}},
"config": {
"font": "Liberation Sans",
"view": {"stroke": null},
"title": {"fontSize": 17, "fontStyle": "italic", "fontWeight": "normal", "color": "black", "offset": 6},
"axis": {"grid": false, "domainColor": "black", "tickColor": "black", "labelColor": "black", "titleColor": "black", "labelFontSize": 16, "titleFontSize": 16, "titleFontWeight": "normal", "domainWidth": 1, "tickWidth": 1, "labelOverlap": false},
"axisX": {"tickSize": 5, "labelPadding": 2, "labelAngle": 0, "titlePadding": 2},
"axisY": {"tickSize": 4, "labelPadding": 3, "labelAngle": 270, "labelAlign": "center", "labelBaseline": "bottom", "labelOverlap": false},
"legend": {"labelColor": "black", "padding": 0}
}
}
